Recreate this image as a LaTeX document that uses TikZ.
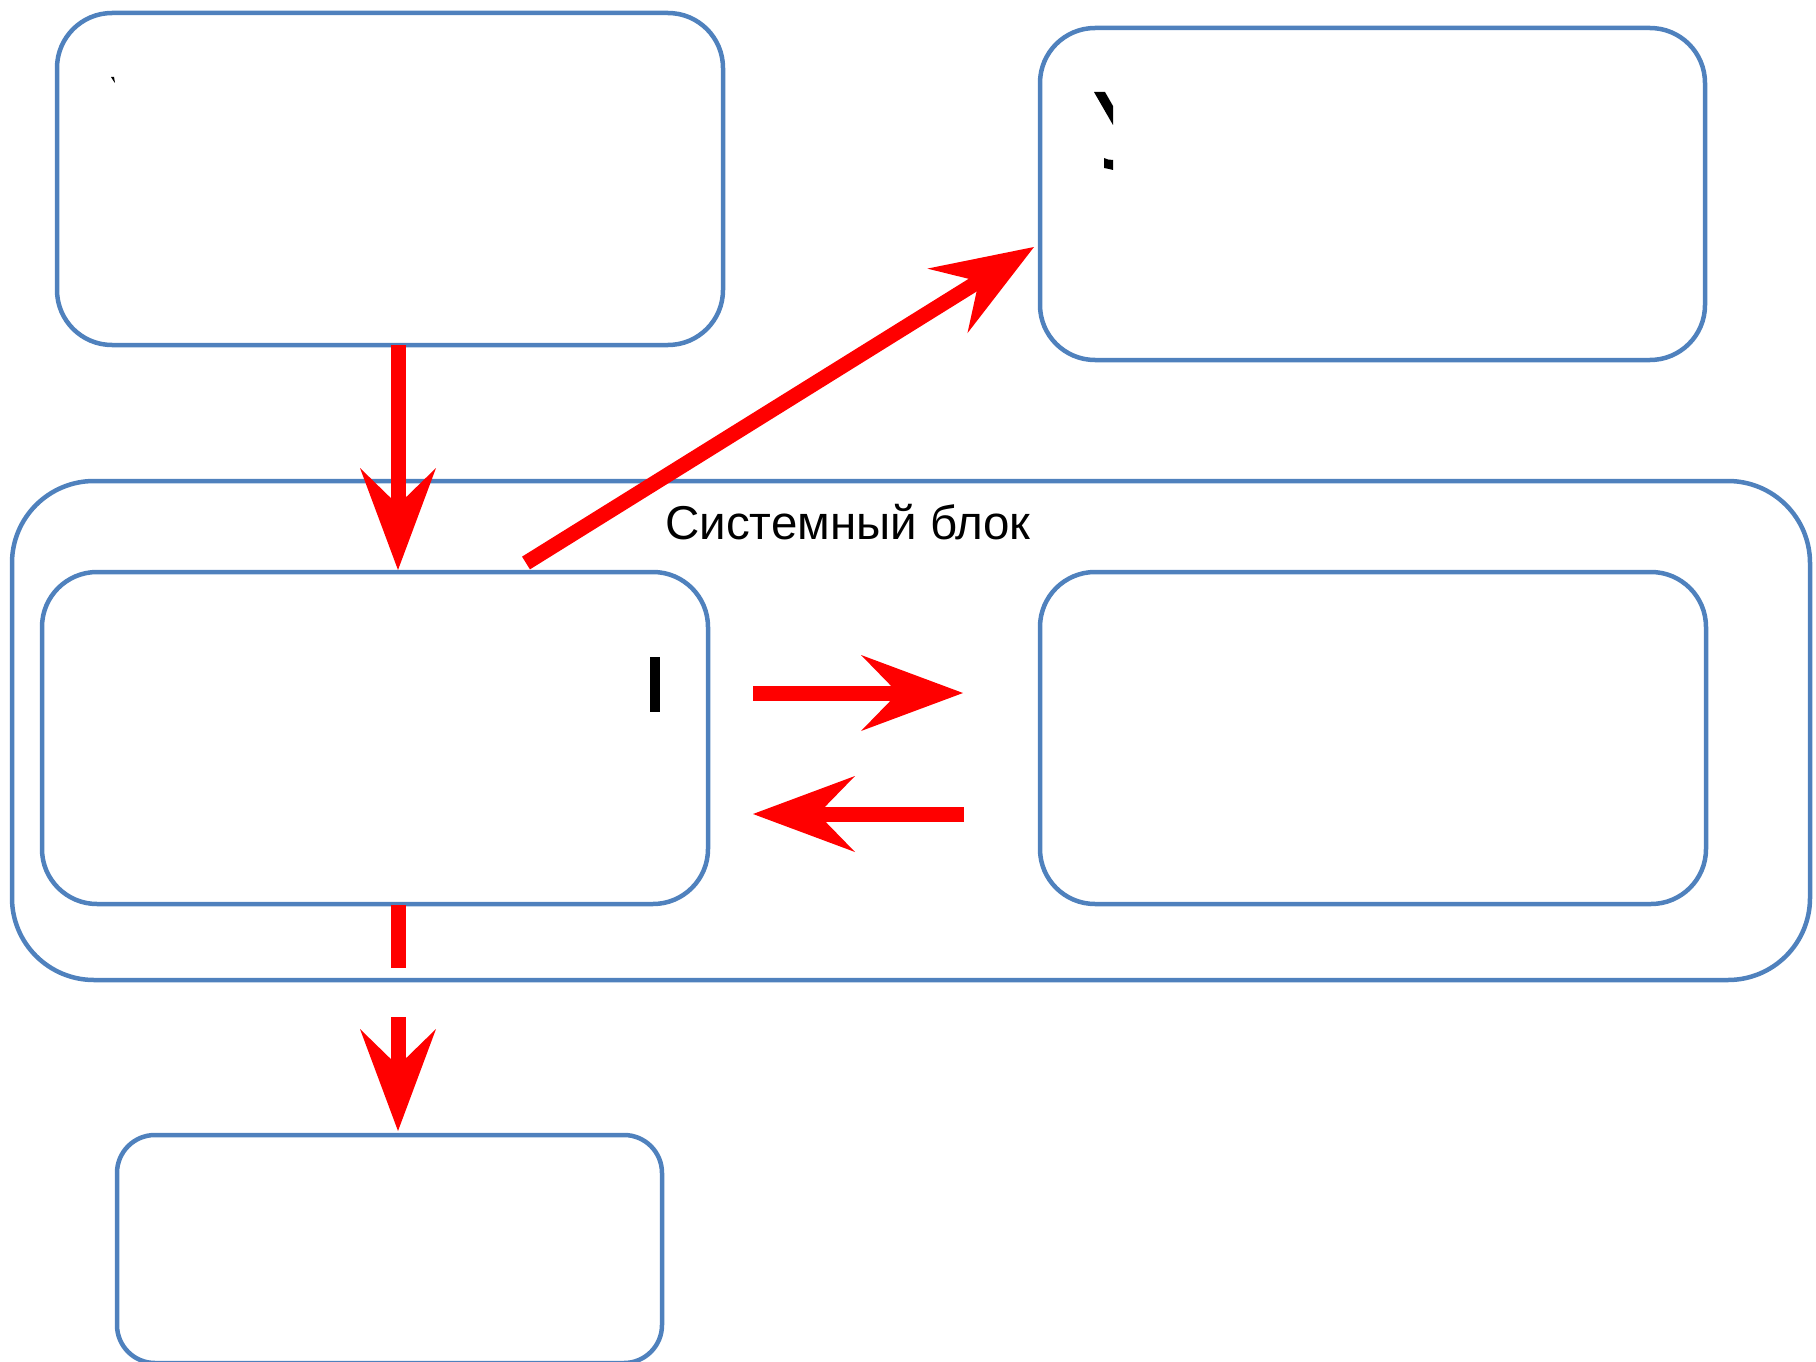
\documentclass[tikz,border=0pt]{standalone}
\usepackage{fontspec}
\setmainfont{Liberation Sans}
\usetikzlibrary{arrows.meta}
\definecolor{boxblue}{HTML}{4F81BD}
\definecolor{arrred}{HTML}{FF0000}
\tikzset{
  box/.style={draw=boxblue, line width=4.5pt, rounded corners=55pt, inner sep=0pt, outer sep=0pt},
  arr/.style={draw=arrred, line width=15pt,
    -{Stealth[length=102pt, width=76pt, inset=37pt, line width=0pt]}},
  seg/.style={draw=arrred, line width=15pt},
  frag/.style={fill=black, draw=none}
}
\begin{document}
\begin{tikzpicture}[x=1pt,y=-1pt]
\useasboundingbox (0,0) rectangle (1816,1362);
% boxes
\node[box, rounded corners=82pt, minimum width=1798pt, minimum height=499pt] (sys) at (911,730.5) {};
\node[box, minimum width=666pt, minimum height=332pt] (tl) at (390,179) {};
\node[box, minimum width=665pt, minimum height=332pt] (tr) at (1372.5,194) {};
\node[box, minimum width=666pt, minimum height=332pt] (il) at (375,738) {};
\node[box, minimum width=666pt, minimum height=332pt] (ir) at (1373,738) {};
\node[box, rounded corners=38pt, minimum width=545pt, minimum height=228pt] (bt) at (389.5,1249) {};
% label
\node[anchor=base west, inner sep=0pt, font=\fontsize{47.5}{57}\selectfont] (lbl) at (665,539) {Системный блок};
% clipped glyph fragments
\path[frag] (111,77) -- (114,77) -- (115,83) -- (113.5,81) -- cycle;
\path[frag] (1094,92) -- (1105,92) -- (1113,106) -- (1113,125) -- cycle;
\path[frag] (1104,158) -- (1108,159.5) -- (1113,160) -- (1113,170) -- (1109,169) -- (1104,168) -- cycle;
\path[frag] (650,657) rectangle (659.5,712);
% connector coordinates
\coordinate (a1s) at (398,345);
\coordinate (a1e) at (398,570);
\coordinate (d1s) at (526,563);
\coordinate (d1e) at (1034,247);
\coordinate (h1s) at (753,693);
\coordinate (h1e) at (963,693);
\coordinate (h2s) at (964,814);
\coordinate (h2e) at (753,814);
\coordinate (b1s) at (398,905);
\coordinate (b1m) at (398,968);
\coordinate (b2s) at (398,1017);
\coordinate (b2e) at (398,1131);
% connectors
\draw[arr] (a1s) -- (a1e);
\draw[arr] (d1s) -- (d1e);
\draw[arr] (h1s) -- (h1e);
\draw[arr] (h2s) -- (h2e);
\draw[seg] (b1s) -- (b1m);
\draw[arr] (b2s) -- (b2e);
\end{tikzpicture}
\end{document}
